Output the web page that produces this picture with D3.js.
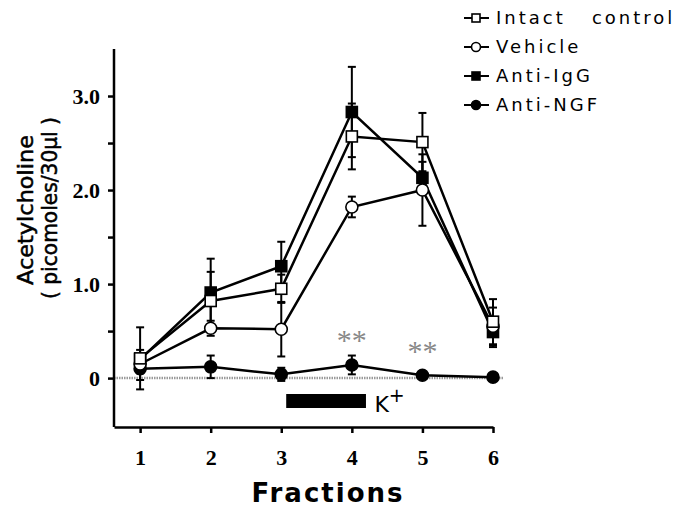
<!DOCTYPE html>
<meta charset="utf-8" />
<script src="https://d3js.org/d3.v7.min.js"></script>
<body style="margin:0;background:#fff">
<svg id="chart" width="678" height="507"></svg>
<script>
/* data ------------------------------------------------------------------- */
const fractions=[1,2,3,4,5,6];
const intact   =[0.21,0.82,0.95,2.57,2.51,0.60];
const intactSem=[0.33,0.31,0.15,0.35,0.31,0.24];
const vehicle   =[0.15,0.53,0.52,1.82,2.00,0.55];
const vehicleSem=[0.10,0.08,0.29,0.11,0.38,0.20];
const antiIgG   =[0.20,0.91,1.19,2.83,2.13,0.49];
const antiIgGSem=[0.10,0.36,0.26,0.48,0.17,0.16];
const antiNGF   =[0.10,0.12,0.04,0.14,0.03,0.01];
const antiNGFSem=[0.12,0.12,0.07,0.10,0.02,0.03];
const yTicks=[0,0.5,1,1.5,2,2.5,3];
const starsAt=[{f:4,v:0.42},{f:5,v:0.30}];

const series=[
  {name:"Intact   control",vals:intact,sem:intactSem,shape:"square",fill:"#fff"},
  {name:"Vehicle",vals:vehicle,sem:vehicleSem,shape:"circle",fill:"#fff"},
  {name:"Anti-IgG",vals:antiIgG,sem:antiIgGSem,shape:"square",fill:"#000"},
  {name:"Anti-NGF",vals:antiNGF,sem:antiNGFSem,shape:"circle",fill:"#000"}
];

/* scales ----------------------------------------------------------------- */
const x=d3.scaleLinear().domain([0.63,6]).range([114,493]);
const y=d3.scaleLinear().domain([-0.52,3.5]).range([427,49]);
const svg=d3.select("#chart");
const serif="'Liberation Serif','DejaVu Serif',serif";
const sans="'DejaVu Sans','Noto Sans',sans-serif";

/* dotted zero line */
svg.append("line").attr("x1",x(0.63)).attr("x2",503).attr("y1",y(0)).attr("y2",y(0))
  .attr("stroke","#999").attr("stroke-width",2.5).attr("stroke-dasharray","1.5,1");

/* axes */
const yAx=svg.append("g").attr("transform",`translate(${x(0.63)},0)`)
  .call(d3.axisLeft(y).tickValues(yTicks).tickSize(6).tickSizeOuter(0)
    .tickFormat(d=>d===0?"0":(d%1===0?d.toFixed(1):"")).tickPadding(8));
const xAx=svg.append("g").attr("transform",`translate(0,${y(-0.52)})`)
  .call(d3.axisBottom(x).tickValues(fractions).tickSize(6).tickSizeOuter(0)
    .tickFormat(d3.format("d")).tickPadding(16));
[yAx,xAx].forEach(a=>{
  a.selectAll("path,line").attr("stroke","#000").attr("stroke-width",2.5);
  a.selectAll("text").attr("font-family",serif).attr("font-weight","bold")
    .attr("font-size",22).attr("fill","#000");
});
yAx.select("path").attr("d",`M0,${y(3.5)}V${y(-0.52)}`);

/* axis titles */
svg.append("text").attr("transform","translate(33,210) rotate(-90)")
  .attr("text-anchor","middle").attr("font-family",sans).attr("font-size",21)
  .attr("textLength",150).attr("lengthAdjust","spacingAndGlyphs")
  .attr("stroke","#000").attr("stroke-width",0.5)
  .text("Acetylcholine");
svg.append("text").attr("transform","translate(57,208) rotate(-90)")
  .attr("text-anchor","middle").attr("font-family",sans).attr("font-size",21)
  .attr("textLength",182).attr("lengthAdjust","spacingAndGlyphs")
  .attr("stroke","#000").attr("stroke-width",0.5)
  .text("( picomoles/30\u00b5l )");
svg.append("text").attr("x",328).attr("y",502).attr("text-anchor","middle")
  .attr("font-family",sans).attr("font-size",26).attr("font-weight","bold")
  .attr("letter-spacing",2).text("Fractions");

/* K+ bar */
svg.append("rect").attr("x",x(3.07)).attr("width",x(4.2)-x(3.07))
  .attr("y",394).attr("height",14).attr("fill","#000");
const kt=svg.append("text").attr("x",x(4.32)).attr("y",412)
  .attr("font-family",sans).attr("font-size",22).text("K");
kt.append("tspan").attr("dy",-10).attr("font-size",19).text("+");

/* marker helper */
function marker(g,s,cx,cy,sz){
  if(s.shape==="square")
    g.append("rect").attr("x",cx-sz/2).attr("y",cy-sz/2).attr("width",sz).attr("height",sz)
      .attr("fill",s.fill).attr("stroke","#000").attr("stroke-width",1.6);
  else
    g.append("circle").attr("cx",cx).attr("cy",cy).attr("r",sz/2+0.5)
      .attr("fill",s.fill).attr("stroke","#000").attr("stroke-width",1.6);
}

const line=d3.line().x((d,i)=>x(fractions[i])).y(d=>y(d));
const plot=svg.append("g");
/* error bars first, then lines, then markers */
series.forEach(s=>{
  s.vals.forEach((v,i)=>{
    const cx=x(fractions[i]),lo=y(v-s.sem[i]),hi=y(v+s.sem[i]);
    plot.append("line").attr("x1",cx).attr("x2",cx).attr("y1",lo).attr("y2",hi)
      .attr("stroke","#000").attr("stroke-width",2);
    [lo,hi].forEach(yy=>plot.append("line").attr("x1",cx-4).attr("x2",cx+4)
      .attr("y1",yy).attr("y2",yy).attr("stroke","#000").attr("stroke-width",2));
  });
});
series.slice().reverse().forEach(s=>{
  plot.append("path").attr("d",line(s.vals)).attr("fill","none")
    .attr("stroke","#000").attr("stroke-width",2.5);
});
series.slice().reverse().forEach(s=>{
  s.vals.forEach((v,i)=>marker(plot,s,x(fractions[i]),y(v),11));
});

/* significance stars */
starsAt.forEach(d=>svg.append("text").attr("x",x(d.f)).attr("y",y(d.v)+11)
  .attr("text-anchor","middle").attr("font-family",serif).attr("font-size",30)
  .attr("fill","#888").text("**"));

/* legend */
const lg=svg.append("g");
series.forEach((s,i)=>{
  const yy=18+i*29;
  lg.append("line").attr("x1",464).attr("x2",489).attr("y1",yy).attr("y2",yy)
    .attr("stroke","#000").attr("stroke-width",2);
  marker(lg,s,476,yy,8);
  lg.append("text").attr("x",496).attr("y",yy+6).attr("font-family",sans)
    .attr("font-size",18).attr("letter-spacing",3).attr("xml:space","preserve")
    .style("white-space","pre").text(s.name);
});
</script>
</body>
